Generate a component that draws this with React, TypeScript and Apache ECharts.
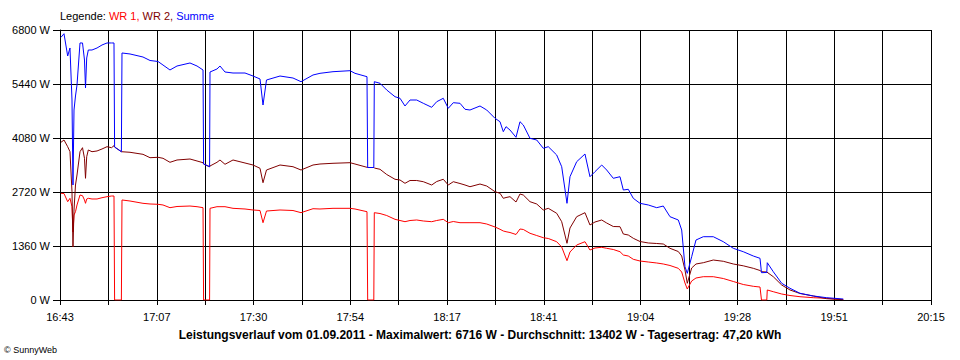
import React, { useEffect, useRef } from "react";
import * as echarts from "echarts";

// minutes after 16:43
const MINUTES = [
  0.24, 0.97, 1.87, 2.43, 2.92, 3.16, 3.41, 3.77, 4.14, 4.87, 5.48, 5.96, 6.21, 6.5, 6.89, 7.79, 9.01, 10.22, 11.44, 12.54,
  13.14, 13.29, 14.94, 15.09, 17.04, 20.2, 21.91, 23.86, 25.07, 26.77, 28.48, 31.64, 33.35, 34.81, 34.95, 36.41, 36.51, 38.21, 38.94, 40.16,
  42.11, 45.03, 46.98, 48.68, 49.41, 50.26, 53.55, 56.71, 58.66, 61.58, 63.28, 66.45, 70.59, 71.8, 74.72, 74.89, 76.38, 76.5, 77.89, 79.52,
  81.54, 82.76, 83.97, 85.19, 86.82, 88.43, 90.47, 91.69, 93.29, 94.51, 95.73, 97.36, 98.58, 99.79, 102.23, 103.86, 105.88, 107.1, 107.9, 108.56,
  109.53, 110.99, 111.96, 112.77, 114.4, 116.03, 117.63, 118.85, 120.89, 122.11, 123.4, 124.13, 125.76, 127.78, 128.99, 130.21, 131.85, 133.06, 134.67, 136.3,
  137.11, 138.32, 139.54, 141.17, 143.19, 145.24, 146.84, 148.47, 150.49, 151.32, 152.12, 152.68, 153.75, 154.8, 156.58, 159.01, 161.45, 163.88, 166.31, 168.75,
  170.38, 170.74, 172.03, 172.15, 173.61, 175.66, 177.68, 180.11, 183.35, 186.61, 190.65,
];

const WR1 = [
  2687, 2682, 2476, 2561, 2350, 1713, 2141, 2224, 2393, 2644, 2627, 2519, 2435, 2544, 2561, 2544, 2544, 2576, 2602, 2619,
  2619, 0, 0, 2519, 2493, 2435, 2418, 2410, 2393, 2325, 2355, 2367, 2350, 2325, 0, 0, 2309, 2350, 2350, 2350,
  2309, 2292, 2267, 2254, 1947, 2241, 2267, 2254, 2199, 2299, 2292, 2309, 2309, 2292, 2224, 0, 0, 2199, 2178, 2128,
  2032, 2002, 1972, 2002, 2015, 1990, 1972, 2002, 2032, 1947, 1977, 1947, 1947, 1947, 1947, 1914, 1839, 1781, 1738, 1720,
  1700, 1650, 1788, 1776, 1680, 1624, 1569, 1549, 1468, 1335, 990, 1209, 1385, 1468, 1259, 1310, 1327, 1302, 1272, 1216,
  1133, 1108, 1025, 982, 957, 932, 907, 869, 798, 705, 428, 277, 479, 554, 587, 587, 541, 466, 390, 345,
  327, 0, 0, 252, 209, 151, 113, 83, 58, 43, 8,
];

const WR2 = [
  3972, 4030, 3861, 3735, 2728, 1335, 2267, 2896, 3148, 3735, 3836, 3569, 3065, 3609, 3778, 3735, 3753, 3803, 3861, 3836,
  3886, 3853, 3735, 3735, 3720, 3669, 3584, 3594, 3569, 3468, 3526, 3551, 3501, 3458, 3425, 3357, 3375, 3468, 3526, 3418,
  3526, 3450, 3400, 3317, 2954, 3274, 3400, 3357, 3274, 3400, 3425, 3443, 3458, 3425, 3342, 3337, 3337, 3324, 3292, 3161,
  3040, 3022, 2939, 3010, 3010, 2979, 2896, 2984, 3040, 2896, 2979, 2934, 2896, 2853, 2921, 2871, 2728, 2687, 2561, 2581,
  2602, 2468, 2670, 2644, 2476, 2418, 2267, 2309, 2184, 1972, 1428, 1813, 2098, 2199, 1889, 1964, 2015, 1939, 1851, 1846,
  1662, 1637, 1554, 1473, 1436, 1423, 1410, 1302, 1221, 1108, 756, 421, 806, 907, 939, 1007, 975, 907, 861, 798,
  743, 713, 705, 693, 587, 378, 252, 164, 101, 33, 8,
];

const SUMME = [
  6616, 6707, 6145, 6347, 5037, 2896, 4785, 5138, 5415, 6473, 6473, 6044, 5339, 6095, 6296, 6296, 6347, 6422, 6473, 6473,
  6473, 3853, 3735, 6221, 6196, 6120, 6032, 6007, 5918, 5793, 5893, 5969, 5893, 5793, 3425, 3357, 5742, 5818, 5893, 5742,
  5717, 5717, 5641, 5566, 4911, 5541, 5641, 5591, 5498, 5667, 5709, 5750, 5775, 5709, 5624, 3337, 3337, 5498, 5458, 5289,
  5120, 5080, 4886, 5037, 5037, 4954, 4853, 4994, 5080, 4828, 4969, 4954, 4803, 4785, 4886, 4785, 4576, 4490, 4239, 4365,
  4281, 4098, 4490, 4407, 4072, 4030, 3821, 3861, 3652, 3357, 2435, 3105, 3483, 3677, 3105, 3231, 3400, 3274, 3065, 3105,
  2770, 2788, 2561, 2435, 2393, 2325, 2367, 2098, 2015, 1763, 839, 672, 1091, 1511, 1594, 1594, 1468, 1302, 1216, 1108,
  1050, 688, 693, 939, 713, 421, 295, 169, 101, 58, 25,
];

const START_MIN = 16 * 60 + 43;
const SPAN_MIN = 212; // 16:43 .. 20:15
const X_STEPS = 18;
const Y_MAX = 6800;
const Y_STEP = 1360;

const SERIES_NAMES = ["WR 1", "WR 2", "Summe"];
const COLORS = ["#ff0000", "#800000", "#0000ff"];
const TITLE =
  "Leistungsverlauf vom 01.09.2011 - Maximalwert: 6716 W - Durchschnitt: 13402 W - Tagesertrag: 47,20 kWh";

const FONT = "'Liberation Sans', Arial, sans-serif";

export default function App() {
  const ref = useRef<HTMLDivElement>(null);

  useEffect(() => {
    if (!ref.current) return;
    const chart = echarts.init(ref.current, undefined, { renderer: "svg" });
    const step = SPAN_MIN / X_STEPS;
    const fmtTime = (v: number) => {
      const m = Math.round(START_MIN + v);
      const h = Math.floor(m / 60);
      const mm = m % 60;
      return `${h}:${mm < 10 ? "0" : ""}${mm}`;
    };
    const seriesData = [WR1, WR2, SUMME];
    chart.setOption({
      animation: false,
      backgroundColor: "#ffffff",
      textStyle: { fontFamily: FONT },
      grid: { left: 60, right: 29, top: 30, bottom: 60, containLabel: false },
      xAxis: {
        type: "value",
        min: 0,
        max: SPAN_MIN,
        interval: step,
        axisLine: { show: true, lineStyle: { color: "#000", width: 1 } },
        axisTick: { show: true, length: 5, lineStyle: { color: "#000", width: 1 } },
        splitLine: { show: true, lineStyle: { color: "#000", width: 1 } },
        axisLabel: {
          color: "#000",
          fontSize: 11,
          fontFamily: FONT,
          margin: 11,
          showMinLabel: true,
          showMaxLabel: true,
          hideOverlap: false,
          formatter: (v: number) => {
            const i = Math.round(v / step);
            if (i % 2 !== 0) return "";
            return fmtTime(v);
          },
        },
      },
      yAxis: {
        type: "value",
        min: 0,
        max: Y_MAX,
        interval: Y_STEP,
        axisLine: { show: true, lineStyle: { color: "#000", width: 1 } },
        axisTick: { show: true, length: 7, lineStyle: { color: "#000", width: 1 } },
        splitLine: { show: true, lineStyle: { color: "#000", width: 1 } },
        axisLabel: {
          color: "#000",
          fontSize: 11,
          fontFamily: FONT,
          margin: 10,
          formatter: (v: number) => `${v} W`,
        },
      },
      series: SERIES_NAMES.map((name, si) => ({
        name,
        type: "line",
        showSymbol: false,
        symbol: "none",
        lineStyle: { color: COLORS[si], width: 1 },
        itemStyle: { color: COLORS[si] },
        z: 2 + si,
        data: MINUTES.map((t, i) => [t, seriesData[si][i]]),
      })),
      graphic: [
        {
          type: "text",
          left: 60,
          top: 10,
          style: {
            text: `{k|Legende: }{a|${SERIES_NAMES[0]}, }{b|${SERIES_NAMES[1]}, }{c|${SERIES_NAMES[2]}}`,
            font: `11px ${FONT}`,
            rich: {
              k: { fill: "#000", fontSize: 11, fontFamily: FONT },
              a: { fill: COLORS[0], fontSize: 11, fontFamily: FONT },
              b: { fill: COLORS[1], fontSize: 11, fontFamily: FONT },
              c: { fill: COLORS[2], fontSize: 11, fontFamily: FONT },
            },
          },
        },
        {
          type: "text",
          left: "center",
          top: 329,
          style: {
            text: TITLE,
            fill: "#000",
            font: `bold 12px ${FONT}`,
          },
        },
        {
          type: "text",
          left: 4,
          top: 345,
          style: {
            text: "© SunnyWeb",
            fill: "#000",
            font: `9px ${FONT}`,
          },
        },
      ],
    });
    return () => chart.dispose();
  }, []);

  return (
    <div
      ref={ref}
      style={{ position: "fixed", left: 0, top: 0, width: 960, height: 360, background: "#fff" }}
    />
  );
}
